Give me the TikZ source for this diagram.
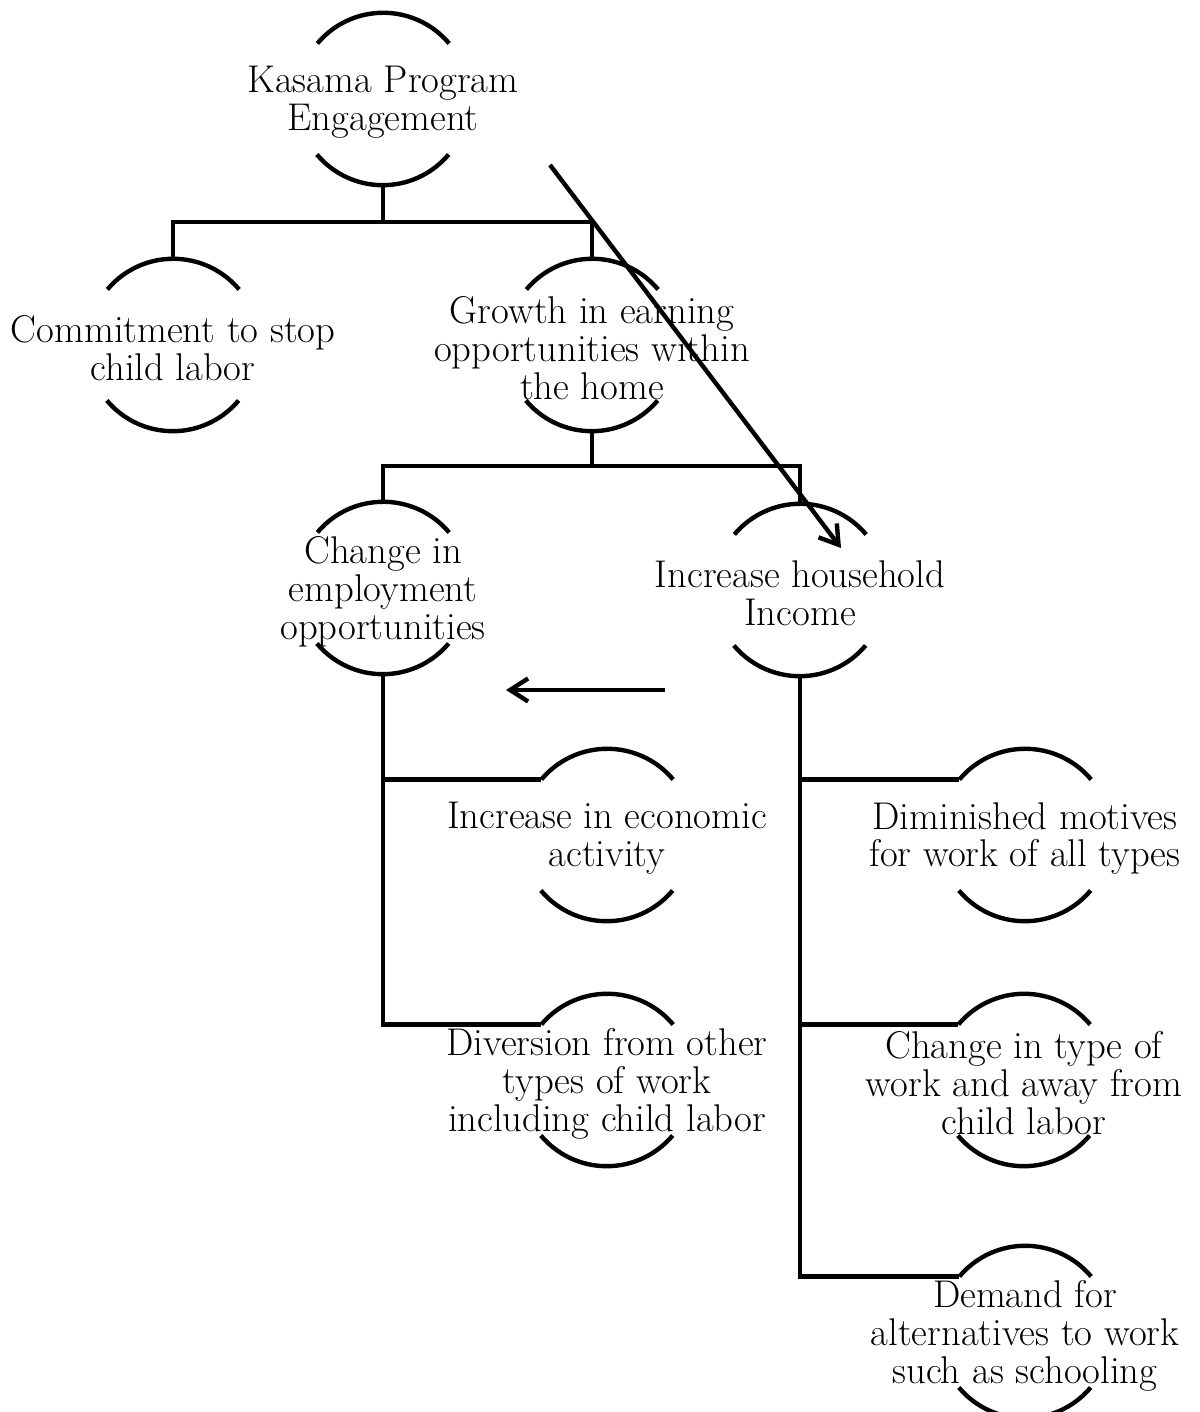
\documentclass[tikz,border=0pt]{standalone}
\usepackage{tikz}
\usetikzlibrary{positioning, arrows.meta, calc}
\tikzset{
  ring/.style={
    circle, minimum size=3.44cm, inner sep=0pt,
    label={[caption]center:#1}
  },
  caption/.style={
    align=center, inner sep=0pt, yshift=-2pt, font=\fontsize{22}{21.6}\selectfont
  },
  rim/.style={draw=black, line width=2.5pt},
  link/.style={draw=black, line width=2.5pt},
  arrow/.style={-{Straight Barb[length=0.36cm, width=0.46cm]}, line width=2.5pt},
}

\begin{document}
\begin{tikzpicture}
  \useasboundingbox (0,0) rectangle (23.98,28.24);

  \node[ring={Kasama Program\\Engagement}] (kasama) at (7.66,26.26) {};

  \node[ring={Commitment to stop\\child labor}] (commit) at (3.46,21.34) {};
  \node[ring={Growth in earning\\opportunities within\\the home}] (growth) at (11.84,21.34) {};

  \node[ring={Change in\\employment\\opportunities}] (employ) at (7.66,16.48) {};
  \node[ring={Increase household\\Income}] (income) at (16.00,16.44) {};

  \node[ring={Increase in economic\\activity}] (econ) at (12.14,11.54) {};
  \node[ring={Diversion from other\\types of work\\including child labor}] (divert) at (12.14,6.64) {};

  \node[ring={Diminished motives\\for work of all types}] (motive) at (20.50,11.54) {};
  \node[ring={Change in type of\\work and away from\\child labor}] (worktype) at (20.48,6.64) {};
  \node[ring={Demand for\\alternatives to work\\such as schooling}] (demand) at (20.50,1.60) {};

  % open rings: upper and lower arcs only
  \foreach \n in {kasama, commit, growth, employ, income, econ, divert, motive, worktype, demand} {
    \draw[rim] (\n.40) arc[start angle=40, end angle=140, radius=1.72cm];
    \draw[rim] (\n.220) arc[start angle=220, end angle=320, radius=1.72cm];
  }

  % tree connectors
  \coordinate (fork1) at (7.66,23.80);
  \coordinate (fork2) at (11.84,18.92);

  \draw[link] (kasama.south) -- (fork1);
  \draw[link] (commit.north) |- (fork1) -| (growth.north);

  \draw[link] (growth.south) -- (fork2);
  \draw[link] (employ.north) |- (fork2) -| (income.north);

  \draw[link] (employ.south) |- (divert.140);
  \draw[link] (employ.south |- econ.140) -- (econ.140);

  \draw[link] (income.south) |- (demand.140);
  \draw[link] (income.south |- motive.140) -- (motive.140);
  \draw[link] (income.south |- worktype.140) -- (worktype.140);

  % free arrows
  \coordinate (diagfrom) at (11.00,24.94);
  \coordinate (diagto) at (16.82,17.28);
  \coordinate (backfrom) at (13.30,14.44);
  \coordinate (backto) at (10.12,14.44);

  \draw[arrow] (diagfrom) -- (diagto);
  \draw[arrow] (backfrom) -- (backto);

\end{tikzpicture}
\end{document}
